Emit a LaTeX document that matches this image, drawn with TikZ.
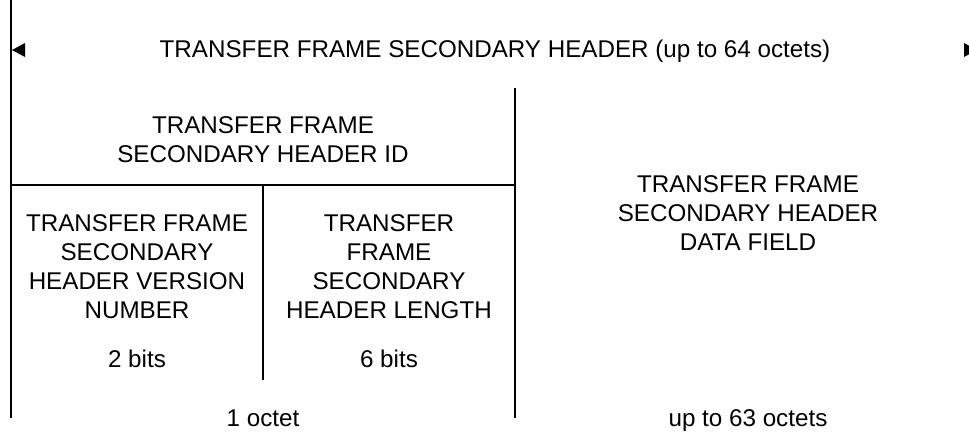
\documentclass[tikz,border=0pt]{standalone}
\usepackage{fontspec}
\setmainfont{Liberation Sans}
\begin{document}
\begin{tikzpicture}[x=1pt,y=-1pt,
  lbl/.style={align=center,font=\fontsize{24.2}{29}\selectfont,inner sep=0pt},
  rule/.style={line width=2.5pt}]
\useasboundingbox (0,0) rectangle (969,431);
% frame lines
\draw[rule] (11,0)--(11,418);
\draw[rule] (515,88)--(515,418);
\draw[rule] (11,185)--(515,185);
\draw[rule] (263,185)--(263,380);
% arrow heads of the overall span
\fill (12,50)--(25,43)--(25,57)--cycle;
\fill (977,50)--(964,43)--(964,57)--cycle;
% labels
\node[lbl,anchor=base] (title) at (495,57) {TRANSFER FRAME SECONDARY HEADER (up to 64 octets)};
\node[lbl,anchor=north] (hdrid) at (263,116.5) {TRANSFER FRAME\\SECONDARY HEADER ID};
\node[lbl,anchor=north] (version) at (137,214.5) {TRANSFER FRAME\\SECONDARY\\HEADER VERSION\\NUMBER};
\node[lbl,anchor=north] (length) at (389,214.5) {TRANSFER\\FRAME\\SECONDARY\\HEADER LENGTH};
\node[lbl,anchor=north] (datafld) at (748,175.5) {TRANSFER FRAME\\SECONDARY HEADER\\DATA FIELD};
\node[lbl,anchor=base] (bitsa) at (137,367) {2 bits};
\node[lbl,anchor=base] (bitsb) at (389,367) {6 bits};
\node[lbl,anchor=base] (octet) at (263,426) {1 octet};
\node[lbl,anchor=base] (octets) at (748,426) {up to 63 octets};
\end{tikzpicture}
\end{document}
